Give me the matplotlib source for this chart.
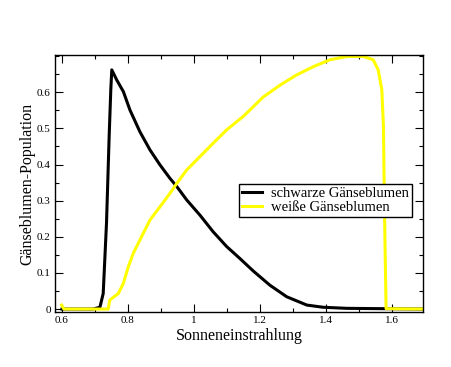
import matplotlib
matplotlib.use("Agg")
import matplotlib.pyplot as plt
from matplotlib.ticker import MultipleLocator

black_x = [0.60, 0.694, 0.715, 0.725, 0.735, 0.743, 0.748, 0.751, 0.766, 0.786, 0.806, 0.836,
           0.867, 0.897, 0.927, 0.948, 0.978, 1.018, 1.058, 1.099, 1.139, 1.180, 1.230,
           1.281, 1.342, 1.391, 1.463, 1.579, 1.69]
black_y = [0.0, 0.0, 0.005, 0.043, 0.238, 0.477, 0.607, 0.662, 0.634, 0.602, 0.551, 0.491,
           0.440, 0.399, 0.362, 0.339, 0.302, 0.260, 0.214, 0.173, 0.140, 0.105, 0.066,
           0.034, 0.011, 0.005, 0.002, 0.001, 0.0]

white_x = [0.599, 0.606, 0.740, 0.745, 0.771, 0.786, 0.801, 0.816, 0.836, 0.867, 0.897,
           0.927, 0.948, 0.978, 1.018, 1.058, 1.099, 1.149, 1.210, 1.261, 1.311, 1.362,
           1.412, 1.463, 1.513, 1.543, 1.558, 1.569, 1.574, 1.576, 1.579, 1.582, 1.694]
white_y = [0.011, 0.0, 0.0, 0.025, 0.043, 0.071, 0.117, 0.154, 0.191, 0.247, 0.283,
           0.320, 0.348, 0.385, 0.422, 0.459, 0.496, 0.533, 0.587, 0.620, 0.648, 0.671,
           0.690, 0.699, 0.699, 0.690, 0.662, 0.607, 0.505, 0.349, 0.163, 0.001, 0.0]

x_ticks = [0.6, 0.8, 1.0, 1.2, 1.4, 1.6]
x_tick_labels = ["0.6", "0.8", "1", "1.2", "1.4", "1.6"]
y_ticks = [0, 0.1, 0.2, 0.3, 0.4, 0.5, 0.6]
y_tick_labels = ["0", "0.1", "0.2", "0.3", "0.4", "0.5", "0.6"]

plt.rcParams['font.family'] = ['Liberation Serif', 'DejaVu Serif']

fig = plt.figure(figsize=(4.52, 3.67), dpi=100)
ax = fig.add_axes([0.1217, 0.150, 0.8143, 0.700])

ax.plot(black_x, black_y, color='black', lw=2.2, label='schwarze Gänseblumen', solid_joinstyle='round')
ax.plot(white_x, white_y, color='#ffff00', lw=2.2, label='weiße Gänseblumen', solid_joinstyle='round')

ax.set_xlim(0.579, 1.694)
ax.set_ylim(-0.008, 0.703)
ax.set_xticks(x_ticks)
ax.set_xticklabels(x_tick_labels)
ax.set_yticks(y_ticks)
ax.set_yticklabels(y_tick_labels)
ax.xaxis.set_minor_locator(MultipleLocator(0.1))
ax.yaxis.set_minor_locator(MultipleLocator(0.05))
ax.tick_params(which='both', direction='in', top=True, right=True, width=0.8, labelsize=8, pad=3)
ax.tick_params(which='major', length=6)
ax.tick_params(which='minor', length=3)
for s in ax.spines.values():
    s.set_linewidth(1.0)

ax.set_xlabel('Sonneneinstrahlung', fontsize=11.5, labelpad=2)
ax.set_ylabel('Gänseblumen-Population', fontsize=11.5, labelpad=1)

leg = ax.legend(loc='upper left', bbox_to_anchor=(0.50, 0.50), fontsize=10.5, frameon=True,
                fancybox=False, edgecolor='black', framealpha=1, handlelength=1.4,
                handletextpad=0.6, borderpad=0.2, labelspacing=0.1, borderaxespad=0)
leg.get_frame().set_linewidth(1.0)

fig.savefig('out.png', dpi=100)
